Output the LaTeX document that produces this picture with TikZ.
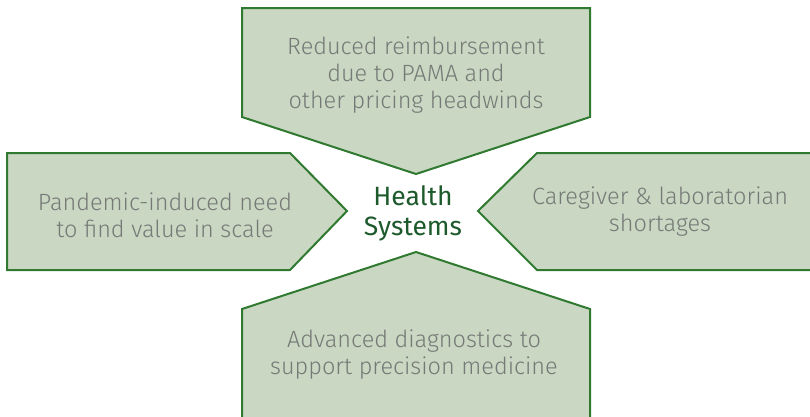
\documentclass[tikz,border=0pt]{standalone}
\usepackage{fontspec}
\setmainfont{Fira Sans Light}
\newfontfamily\centerfont{Fira Sans}
\definecolor{boxfill}{HTML}{CAD7C3}
\definecolor{boxline}{HTML}{2F7A30}
\definecolor{boxtext}{HTML}{757A76}
\definecolor{hstext}{HTML}{1C5A2C}
\tikzset{
  arrowbox/.style={draw=boxline, fill=boxfill, line width=2pt, line join=miter},
  boxlabel/.style={text=boxtext, align=center, font=\fontsize{23.5}{27}\selectfont, inner sep=0pt},
  centerlabel/.style={text=hstext, align=center, font=\centerfont\fontsize{26.5}{30}\selectfont, inner sep=0pt}
}
\begin{document}
\begin{tikzpicture}[x=1pt,y=-1pt]
\useasboundingbox (0,0) rectangle (810,416);
\clip (0,0) rectangle (810,416);
% top
\draw[arrowbox] (242,8) -- (590,8) -- (590,117) -- (416,174) -- (242,117) -- cycle;
% left
\draw[arrowbox] (7,153) -- (290,153) -- (347,211) -- (290,270) -- (7,270) -- cycle;
% right
\draw[arrowbox] (830,153) -- (537,153) -- (478,211) -- (537,270) -- (830,270) -- cycle;
% bottom
\draw[arrowbox] (242,440) -- (242,309) -- (416,252) -- (590,309) -- (590,440) -- cycle;
\node[boxlabel] (top) at (416,75) {Reduced reimbursement\\due to PAMA and\\other pricing headwinds};
\node[boxlabel] (left) at (165,215) {Pandemic-induced need\\to find value in scale};
\node[boxlabel] (right) at (660,212) {Caregiver \& laboratorian\\shortages};
\node[boxlabel] (bottom) at (414,355) {Advanced diagnostics to\\support precision medicine};
\node[centerlabel] (center) at (413,213) {Health\\Systems};
\end{tikzpicture}
\end{document}
